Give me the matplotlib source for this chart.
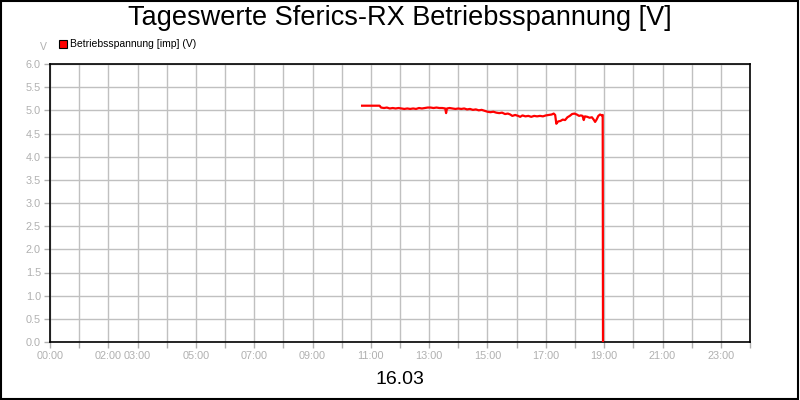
import matplotlib.pyplot as plt
from matplotlib.patches import Rectangle

plt.rcParams['font.family'] = ['Liberation Sans', 'DejaVu Sans']

# Betriebsspannung, Stunde des Tages -> Volt
hours = [10.70, 10.90, 11.10, 11.30, 11.35, 11.45, 11.55, 11.65, 11.75, 11.85,
         11.95, 12.05, 12.15, 12.25, 12.35, 12.45, 12.55, 12.65, 12.75, 12.85,
         12.95, 13.05, 13.15, 13.25, 13.35, 13.45, 13.55, 13.58, 13.61, 13.70,
         13.80, 13.90, 14.00, 14.10, 14.20, 14.30, 14.40, 14.50, 14.60, 14.70,
         14.80, 14.90, 15.00, 15.10, 15.20, 15.30, 15.40, 15.50, 15.60, 15.70,
         15.78, 15.85, 15.95, 16.05, 16.12, 16.20, 16.30, 16.40, 16.50, 16.60,
         16.70, 16.80, 16.90, 17.00, 17.10, 17.20, 17.27, 17.32, 17.36, 17.42,
         17.50, 17.58, 17.66, 17.74, 17.82, 17.90, 17.98, 18.06, 18.14, 18.20,
         18.26, 18.30, 18.34, 18.42, 18.50, 18.58, 18.64, 18.69, 18.74, 18.80,
         18.86, 18.92, 18.95, 18.96]
volts = [5.10, 5.10, 5.10, 5.10, 5.06, 5.05, 5.06, 5.04, 5.05, 5.04,
         5.05, 5.04, 5.03, 5.04, 5.03, 5.04, 5.03, 5.05, 5.04, 5.05,
         5.06, 5.06, 5.05, 5.06, 5.05, 5.05, 5.04, 4.94, 5.04, 5.05,
         5.04, 5.03, 5.04, 5.03, 5.04, 5.02, 5.03, 5.01, 5.02, 5.00,
         5.01, 4.99, 4.97, 4.96, 4.97, 4.95, 4.94, 4.95, 4.92, 4.93,
         4.91, 4.88, 4.90, 4.88, 4.86, 4.89, 4.87, 4.88, 4.86, 4.88,
         4.87, 4.88, 4.87, 4.89, 4.90, 4.91, 4.93, 4.90, 4.71, 4.76,
         4.77, 4.80, 4.79, 4.85, 4.88, 4.92, 4.93, 4.91, 4.88, 4.89,
         4.88, 4.79, 4.87, 4.86, 4.84, 4.85, 4.80, 4.75, 4.80, 4.88,
         4.91, 4.89, 4.90, 0.00]

tick_hours = list(range(25))
tick_labels = {0: '00:00', 2: '02:00', 3: '03:00', 5: '05:00', 7: '07:00',
               9: '09:00', 11: '11:00', 13: '13:00', 15: '15:00', 17: '17:00',
               19: '19:00', 21: '21:00', 23: '23:00'}

fig = plt.figure(figsize=(8, 4), dpi=100)
ax = fig.add_axes([50/800, 58/400, 700/800, 278/400])

ax.plot(hours, volts, color='#ff0000', lw=1.6, zorder=3)

ax.set_xlim(0, 24)
ax.set_ylim(0, 6)
ax.set_xticks(tick_hours)
ax.set_xticklabels([tick_labels.get(h, '') for h in tick_hours])
ax.set_yticks([i * 0.5 for i in range(13)])
ax.set_yticklabels(['%.1f' % (i * 0.5) for i in range(13)])
ax.grid(True, color='#c0c0c0', lw=1)
ax.tick_params(colors='#b0b0b0', labelsize=7.8, length=4, width=1, pad=2.5)
for s in ax.spines.values():
    s.set_color('black')
    s.set_linewidth(1.2)

fig.text(0.5, 1 - 18/400, 'Tageswerte Sferics-RX Betriebsspannung [V]',
         ha='center', va='center', fontsize=19.5)
fig.text(43/800, 1 - 47/400, 'V', ha='center', va='center', fontsize=7.5, color='#b0b0b0')
fig.patches.append(Rectangle((59/800, 1 - 48/400), 8/800, 8/400, transform=fig.transFigure,
                             facecolor='#ff0000', edgecolor='black', lw=0.8))
fig.text(70/800, 1 - 44/400, 'Betriebsspannung [imp] (V)', ha='left', va='center',
         fontsize=7.5, color='black')
fig.text(0.5, 1 - 380/400, '16.03', ha='center', va='center', fontsize=14)
fig.patches.append(Rectangle((0.001, 0.002), 0.997, 0.996, transform=fig.transFigure,
                             facecolor='none', edgecolor='black', lw=1.5))

fig.savefig('out.png', dpi=100)
